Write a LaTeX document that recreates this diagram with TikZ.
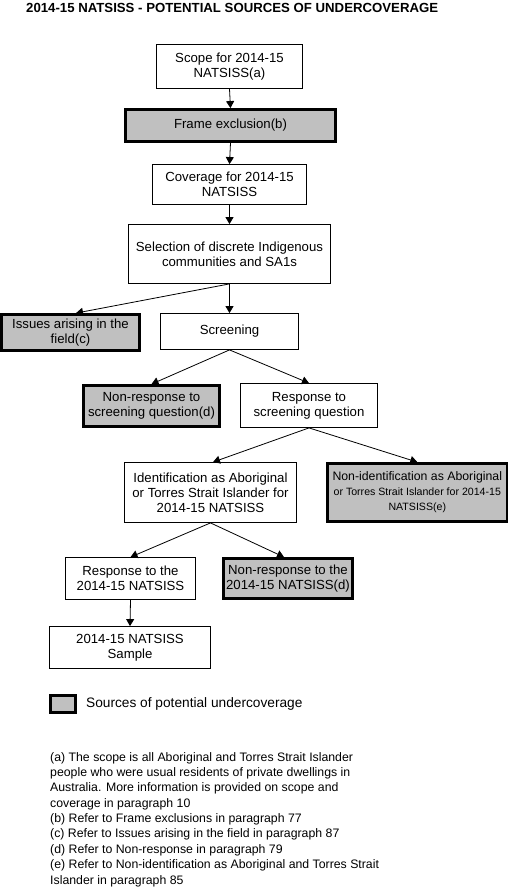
\documentclass[tikz,border=0pt]{standalone}
\usepackage{fontspec}
\setmainfont{Liberation Sans}
\usetikzlibrary{arrows.meta}
\definecolor{srcgray}{HTML}{C0C0C0}
\tikzset{
  box/.style={draw, line width=0.8pt, fill=white, align=center, inner sep=0pt,
    font=\fontsize{13.2}{15}\selectfont},
  srcbox/.style={box, fill=srcgray, line width=2.8pt},
  arr/.style={-{Triangle[length=7pt,width=8pt]}, line width=0.8pt},
  fnote/.style={anchor=base west, inner sep=0pt, font=\fontsize{12.3}{15}\selectfont}
}
\begin{document}
\begin{tikzpicture}[x=1pt,y=-1pt]
\useasboundingbox (0,0) rectangle (509,890);
\node[anchor=base west, inner sep=0pt, font=\fontsize{13.2}{15}\selectfont\bfseries] (title) at (26,12.5) {2014-15 NATSISS - POTENTIAL SOURCES OF UNDERCOVERAGE};

\node[box, minimum width=146pt, minimum height=44pt] (scope) at (229.5,66.5) {Scope for 2014-15\\NATSISS(a)};
\node[srcbox, minimum width=210pt, minimum height=32pt] (frame) at (230.5,125.5) {Frame exclusion(b)};
\node[box, minimum width=154pt, minimum height=40pt] (cover) at (229.5,184.5) {Coverage for 2014-15\\NATSISS};
\node[box, minimum width=202pt, minimum height=59pt] (select) at (229.5,254) {Selection of discrete Indigenous\\communities and SA1s};
\node[srcbox, minimum width=138pt, minimum height=36pt] (issues) at (70.5,332.5) {Issues arising in the\\field(c)};
\node[box, minimum width=138pt, minimum height=36pt] (screen) at (229.5,331.5) {Screening};
\node[srcbox, minimum width=136pt, minimum height=41pt] (nrscreen) at (151.5,406) {Non-response to\\screening question(d)};
\node[box, minimum width=137pt, minimum height=44pt] (rscreen) at (309,405.5) {Response to\\screening question};
\node[box, minimum width=172pt, minimum height=60pt] (ident) at (210.5,492.5) {Identification as Aboriginal\\or Torres Strait Islander for\\2014-15 NATSISS};
\node[srcbox, minimum width=179.5pt, minimum height=58pt, font=\fontsize{10.6}{15}\selectfont] (nonident) at (417.3,492.5) {{\fontsize{12.3}{15}\selectfont Non-identification as Aboriginal}\\or Torres Strait Islander for 2014-15\\NATSISS(e)};
\node[box, minimum width=130pt, minimum height=42pt] (resp) at (130.5,578.5) {Response to the\\2014-15 NATSISS};
\node[srcbox, minimum width=129pt, minimum height=40pt] (nresp) at (288,578.5) {Non-response to the\\2014-15 NATSISS(d)};
\node[box, minimum width=161pt, minimum height=42pt] (sample) at (130,647.5) {2014-15 NATSISS\\Sample};

\draw[arr] (scope.south) -- (frame.north);
\draw[arr] (frame.south) -- (cover.north);
\draw[arr] (cover.south) -- (select.north);
\draw[arr] (select.south) -- ([xshift=5.5pt]issues.north);
\draw[arr] (select.south) -- (screen.north);
\draw[arr] (screen.south) -- (nrscreen.north);
\draw[arr] (screen.south) -- (rscreen.north);
\draw[arr] (rscreen.south) -- ([xshift=2.5pt]ident.north);
\draw[arr] (rscreen.south) -- (nonident.north);
\draw[arr] (ident.south) -- (resp.north);
\draw[arr] (ident.south) -- ([xshift=-4pt]nresp.north);
\draw[arr] (resp.south) -- (sample.north);

\node[srcbox, minimum width=25pt, minimum height=17pt] (legbox) at (63,704) {};
\node[anchor=west, inner sep=0pt, font=\fontsize{13.7}{15}\selectfont] (legtext) at (86,704) {Sources of potential undercoverage};

\node[fnote] (fn1) at (50,761) {(a) The scope is all Aboriginal and Torres Strait Islander};
\node[fnote] (fn2) at (50,776.4) {people who were usual residents of private dwellings in};
\node[fnote] (fn3) at (50,791.8) {Australia. More information is provided on scope and};
\node[fnote] (fn4) at (50,807.1) {coverage in paragraph 10};
\node[fnote] (fn5) at (50,822.5) {(b) Refer to Frame exclusions in paragraph 77};
\node[fnote] (fn6) at (50,837.9) {(c) Refer to Issues arising in the field in paragraph 87};
\node[fnote] (fn7) at (50,853.3) {(d) Refer to Non-response in paragraph 79};
\node[fnote] (fn8) at (50,868.6) {(e) Refer to Non-identification as Aboriginal and Torres Strait};
\node[fnote] (fn9) at (50,884) {Islander in paragraph 85};
\end{tikzpicture}
\end{document}
